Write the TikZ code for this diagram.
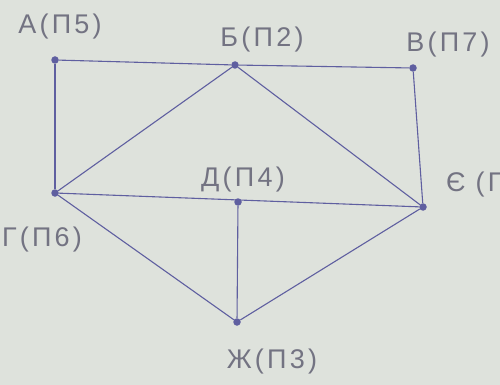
\documentclass[tikz,border=0pt]{standalone}
\usepackage{fontspec}
\setmainfont{Liberation Sans}[LetterSpace=12]
\definecolor{paper}{RGB}{222,226,220}
\definecolor{ink}{RGB}{95,95,160}
\definecolor{pencil}{RGB}{115,115,130}
\begin{document}
\begin{tikzpicture}[x=1pt,y=-1pt,
  vtx/.style={circle,fill=ink,inner sep=0pt,minimum size=7.5pt},
  lbl/.style={text=pencil,font=\fontsize{27}{30}\selectfont,inner sep=0pt},
  edge/.style={draw=ink,line width=1.1pt}]
\fill[paper] (0,0) rectangle (500,385);
\useasboundingbox (0,0) rectangle (500,385);
\node[vtx] (A) at (55,60) {};
\node[vtx] (B) at (235,65) {};
\node[vtx] (V) at (413,68) {};
\node[vtx] (G) at (55,193) {};
\node[vtx] (D) at (238,202) {};
\node[vtx] (E) at (423,207) {};
\node[vtx] (Zh) at (237,322) {};
\draw[edge] (A) -- (B);
\draw[edge] (B) -- (V);
\draw[edge] (A) -- (G);
\draw[edge] (B) -- (G);
\draw[edge] (B) -- (E);
\draw[edge] (V) -- (E);
\draw[edge] (G) -- (E);
\draw[edge] (D) -- (Zh);
\draw[edge] (G) -- (Zh);
\draw[edge] (E) -- (Zh);
\node[lbl] (lA) at (60,27) {А(П5)};
\node[lbl] (lB) at (262,40) {Б(П2)};
\node[lbl] (lV) at (448,45) {В(П7)};
\node[lbl] (lD) at (243,180) {Д(П4)};
\node[lbl,anchor=west] (lE) at (446,185) {Є\hspace{10pt}(П};
\node[lbl] (lG) at (42,240) {Г(П6)};
\node[lbl] (lZh) at (272,362) {Ж(П3)};
\end{tikzpicture}
\end{document}
